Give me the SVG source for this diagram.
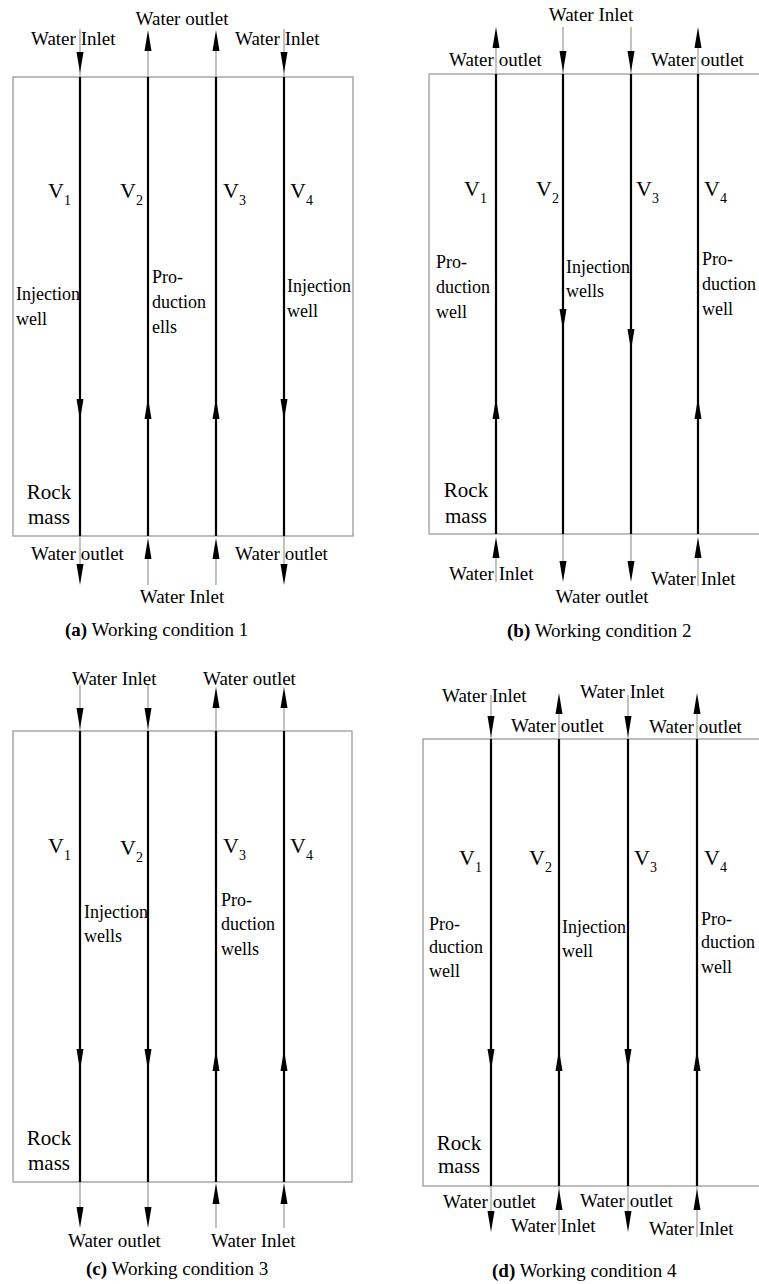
<svg xmlns="http://www.w3.org/2000/svg" width="759" height="1284" viewBox="0 0 759 1284">
<style>
.box{fill:none;stroke:#9a9a9a;stroke-width:1.3}
.well{stroke:#000;stroke-width:2.2}
.pipe{stroke:#9a9a9a;stroke-width:1.2}
</style>
<defs>
<path id="dn" d="M-3.5,-21 L3.5,-21 L0,0 Z" fill="#000"/>
<path id="up" d="M-3.5,21 L3.5,21 L0,0 Z" fill="#000"/>
</defs>
<rect width="759" height="1284" fill="#fff"/>

<!-- Panel (a) -->
<g id="panel-a">
<g id="a-rock"><rect class="box" x="13" y="77" width="340" height="459"/>
<text font-family="Liberation Serif" font-size="21" x="49" y="499" text-anchor="middle">Rock</text><text font-family="Liberation Serif" font-size="21" x="49" y="524" text-anchor="middle">mass</text></g>
<g id="a-w1"><line class="well" x1="80" y1="77" x2="80" y2="536"/><text font-family="Liberation Serif" font-size="22" x="48" y="198">V<tspan font-size="14" dy="7">1</tspan></text><text font-family="Liberation Serif" font-size="18" x="16" y="300">Injection</text><text font-family="Liberation Serif" font-size="18" x="16" y="325">well</text></g>
<g id="a-w2"><line class="well" x1="148" y1="77" x2="148" y2="536"/><text font-family="Liberation Serif" font-size="22" x="120" y="198">V<tspan font-size="14" dy="7">2</tspan></text><text font-family="Liberation Serif" font-size="18" x="152" y="283">Pro-</text><text font-family="Liberation Serif" font-size="18" x="152" y="308">duction</text><text font-family="Liberation Serif" font-size="18" x="152" y="333">ells</text></g>
<g id="a-w3"><line class="well" x1="216" y1="77" x2="216" y2="536"/><text font-family="Liberation Serif" font-size="22" x="223" y="198">V<tspan font-size="14" dy="7">3</tspan></text></g>
<g id="a-w4"><line class="well" x1="284" y1="77" x2="284" y2="536"/><text font-family="Liberation Serif" font-size="22" x="290" y="198">V<tspan font-size="14" dy="7">4</tspan></text><text font-family="Liberation Serif" font-size="18" x="287" y="292">Injection</text><text font-family="Liberation Serif" font-size="18" x="287" y="317">well</text></g>
<g id="a-labels">
<text font-family="Liberation Serif" font-size="19" x="31" y="45">Water Inlet</text><text font-family="Liberation Serif" font-size="19" x="235" y="45">Water Inlet</text>
<text font-family="Liberation Serif" font-size="19" x="182" y="25" text-anchor="middle">Water outlet</text>
<text font-family="Liberation Serif" font-size="19" x="31" y="560">Water outlet</text><text font-family="Liberation Serif" font-size="19" x="235" y="560">Water outlet</text>
<text font-family="Liberation Serif" font-size="19" x="182" y="603" text-anchor="middle">Water Inlet</text>
<text font-family="Liberation Serif" font-size="19" x="65" y="636"><tspan font-weight="bold">(a)</tspan> Working condition 1</text>
</g>
<g id="a-connectors">
<line class="pipe" x1="80" y1="29" x2="80" y2="77"/><use href="#dn" x="80" y="73"/>
<line class="pipe" x1="284" y1="29" x2="284" y2="77"/><use href="#dn" x="284" y="73"/>
<line class="pipe" x1="148" y1="40" x2="148" y2="77"/><use href="#up" x="148" y="30"/>
<line class="pipe" x1="216" y1="40" x2="216" y2="77"/><use href="#up" x="216" y="30"/>
<line class="pipe" x1="80" y1="536" x2="80" y2="580"/><use href="#dn" x="80" y="585"/>
<line class="pipe" x1="284" y1="536" x2="284" y2="580"/><use href="#dn" x="284" y="585"/>
<line class="pipe" x1="148" y1="545" x2="148" y2="585"/><use href="#up" x="148" y="538"/>
<line class="pipe" x1="216" y1="545" x2="216" y2="585"/><use href="#up" x="216" y="538"/>
<use href="#dn" x="80" y="420"/><use href="#up" x="148" y="398"/><use href="#up" x="216" y="398"/><use href="#dn" x="284" y="420"/>
</g>
</g>

<!-- Panel (b) -->
<g id="panel-b">
<g id="b-rock"><rect class="box" x="429" y="74" width="340" height="460"/>
<text font-family="Liberation Serif" font-size="21" x="466" y="497" text-anchor="middle">Rock</text><text font-family="Liberation Serif" font-size="21" x="466" y="523" text-anchor="middle">mass</text></g>
<g id="b-w1"><line class="well" x1="496" y1="74" x2="496" y2="534"/><text font-family="Liberation Serif" font-size="22" x="464" y="196">V<tspan font-size="14" dy="7">1</tspan></text><text font-family="Liberation Serif" font-size="18" x="436" y="268">Pro-</text><text font-family="Liberation Serif" font-size="18" x="436" y="293">duction</text><text font-family="Liberation Serif" font-size="18" x="436" y="318">well</text></g>
<g id="b-w2"><line class="well" x1="563" y1="74" x2="563" y2="534"/><text font-family="Liberation Serif" font-size="22" x="536" y="196">V<tspan font-size="14" dy="7">2</tspan></text><text font-family="Liberation Serif" font-size="18" x="566" y="273">Injection</text><text font-family="Liberation Serif" font-size="18" x="566" y="297">wells</text></g>
<g id="b-w3"><line class="well" x1="631" y1="74" x2="631" y2="534"/><text font-family="Liberation Serif" font-size="22" x="636" y="196">V<tspan font-size="14" dy="7">3</tspan></text></g>
<g id="b-w4"><line class="well" x1="698" y1="74" x2="698" y2="534"/><text font-family="Liberation Serif" font-size="22" x="704" y="196">V<tspan font-size="14" dy="7">4</tspan></text><text font-family="Liberation Serif" font-size="18" x="702" y="265">Pro-</text><text font-family="Liberation Serif" font-size="18" x="702" y="290">duction</text><text font-family="Liberation Serif" font-size="18" x="702" y="315">well</text></g>
<g id="b-labels">
<text font-family="Liberation Serif" font-size="19" x="449" y="66">Water outlet</text><text font-family="Liberation Serif" font-size="19" x="651" y="66">Water outlet</text>
<text font-family="Liberation Serif" font-size="19" x="591" y="21" text-anchor="middle">Water Inlet</text>
<text font-family="Liberation Serif" font-size="19" x="449" y="580">Water Inlet</text><text font-family="Liberation Serif" font-size="19" x="651" y="585">Water Inlet</text>
<text font-family="Liberation Serif" font-size="19" x="602" y="603" text-anchor="middle">Water outlet</text>
<text font-family="Liberation Serif" font-size="19" x="507" y="637"><tspan font-weight="bold">(b)</tspan> Working condition 2</text>
</g>
<g id="b-connectors">
<line class="pipe" x1="496" y1="40" x2="496" y2="74"/><use href="#up" x="496" y="27"/>
<line class="pipe" x1="698" y1="40" x2="698" y2="74"/><use href="#up" x="698" y="27"/>
<line class="pipe" x1="563" y1="27" x2="563" y2="74"/><use href="#dn" x="563" y="72"/>
<line class="pipe" x1="631" y1="27" x2="631" y2="74"/><use href="#dn" x="631" y="72"/>
<line class="pipe" x1="496" y1="545" x2="496" y2="582"/><use href="#up" x="496" y="537"/>
<line class="pipe" x1="698" y1="545" x2="698" y2="586"/><use href="#up" x="698" y="537"/>
<line class="pipe" x1="563" y1="534" x2="563" y2="575"/><use href="#dn" x="563" y="582"/>
<line class="pipe" x1="631" y1="534" x2="631" y2="575"/><use href="#dn" x="631" y="582"/>
<use href="#up" x="496" y="398"/><use href="#dn" x="563" y="330"/><use href="#dn" x="631" y="350"/><use href="#up" x="698" y="398"/>
</g>
</g>

<!-- Panel (c) -->
<g id="panel-c">
<g id="c-rock"><rect class="box" x="13" y="731" width="339" height="451"/>
<text font-family="Liberation Serif" font-size="21" x="49" y="1145" text-anchor="middle">Rock</text><text font-family="Liberation Serif" font-size="21" x="49" y="1170" text-anchor="middle">mass</text></g>
<g id="c-w1"><line class="well" x1="80" y1="731" x2="80" y2="1182"/><text font-family="Liberation Serif" font-size="22" x="48" y="853">V<tspan font-size="14" dy="7">1</tspan></text></g>
<g id="c-w2"><line class="well" x1="148" y1="731" x2="148" y2="1182"/><text font-family="Liberation Serif" font-size="22" x="120" y="855">V<tspan font-size="14" dy="7">2</tspan></text><text font-family="Liberation Serif" font-size="18" x="84" y="918">Injection</text><text font-family="Liberation Serif" font-size="18" x="84" y="942">wells</text></g>
<g id="c-w3"><line class="well" x1="216" y1="731" x2="216" y2="1182"/><text font-family="Liberation Serif" font-size="22" x="223" y="853">V<tspan font-size="14" dy="7">3</tspan></text><text font-family="Liberation Serif" font-size="18" x="221" y="906">Pro-</text><text font-family="Liberation Serif" font-size="18" x="221" y="930">duction</text><text font-family="Liberation Serif" font-size="18" x="221" y="955">wells</text></g>
<g id="c-w4"><line class="well" x1="284" y1="731" x2="284" y2="1182"/><text font-family="Liberation Serif" font-size="22" x="290" y="853">V<tspan font-size="14" dy="7">4</tspan></text></g>
<g id="c-labels">
<text font-family="Liberation Serif" font-size="19" x="72" y="685">Water Inlet</text><text font-family="Liberation Serif" font-size="19" x="203" y="685">Water outlet</text>
<text font-family="Liberation Serif" font-size="19" x="68" y="1247">Water outlet</text><text font-family="Liberation Serif" font-size="19" x="211" y="1247">Water Inlet</text>
<text font-family="Liberation Serif" font-size="19" x="86" y="1275"><tspan font-weight="bold">(c)</tspan> Working condition 3</text>
</g>
<g id="c-connectors">
<line class="pipe" x1="80" y1="685" x2="80" y2="731"/><use href="#dn" x="80" y="729"/>
<line class="pipe" x1="148" y1="685" x2="148" y2="731"/><use href="#dn" x="148" y="729"/>
<line class="pipe" x1="216" y1="700" x2="216" y2="731"/><use href="#up" x="216" y="687"/>
<line class="pipe" x1="284" y1="700" x2="284" y2="731"/><use href="#up" x="284" y="687"/>
<line class="pipe" x1="80" y1="1182" x2="80" y2="1222"/><use href="#dn" x="80" y="1228"/>
<line class="pipe" x1="148" y1="1182" x2="148" y2="1222"/><use href="#dn" x="148" y="1228"/>
<line class="pipe" x1="216" y1="1195" x2="216" y2="1228"/><use href="#up" x="216" y="1183"/>
<line class="pipe" x1="284" y1="1195" x2="284" y2="1228"/><use href="#up" x="284" y="1183"/>
<use href="#dn" x="80" y="1070"/><use href="#dn" x="148" y="1070"/><use href="#up" x="216" y="1050"/><use href="#up" x="284" y="1050"/>
</g>
</g>

<!-- Panel (d) -->
<g id="panel-d">
<g id="d-rock"><rect class="box" x="423" y="739" width="340" height="447"/>
<text font-family="Liberation Serif" font-size="21" x="459" y="1150" text-anchor="middle">Rock</text><text font-family="Liberation Serif" font-size="21" x="459" y="1173" text-anchor="middle">mass</text></g>
<g id="d-w1"><line class="well" x1="491" y1="739" x2="491" y2="1186"/><text font-family="Liberation Serif" font-size="22" x="459" y="865">V<tspan font-size="14" dy="7">1</tspan></text><text font-family="Liberation Serif" font-size="18" x="429" y="930">Pro-</text><text font-family="Liberation Serif" font-size="18" x="429" y="953">duction</text><text font-family="Liberation Serif" font-size="18" x="429" y="977">well</text></g>
<g id="d-w2"><line class="well" x1="559" y1="739" x2="559" y2="1186"/><text font-family="Liberation Serif" font-size="22" x="529" y="865">V<tspan font-size="14" dy="7">2</tspan></text><text font-family="Liberation Serif" font-size="18" x="562" y="933">Injection</text><text font-family="Liberation Serif" font-size="18" x="562" y="957">well</text></g>
<g id="d-w3"><line class="well" x1="628" y1="739" x2="628" y2="1186"/><text font-family="Liberation Serif" font-size="22" x="634" y="865">V<tspan font-size="14" dy="7">3</tspan></text></g>
<g id="d-w4"><line class="well" x1="697" y1="739" x2="697" y2="1186"/><text font-family="Liberation Serif" font-size="22" x="704" y="865">V<tspan font-size="14" dy="7">4</tspan></text><text font-family="Liberation Serif" font-size="18" x="701" y="925">Pro-</text><text font-family="Liberation Serif" font-size="18" x="701" y="948">duction</text><text font-family="Liberation Serif" font-size="18" x="701" y="973">well</text></g>
<g id="d-labels">
<text font-family="Liberation Serif" font-size="19" x="442" y="702">Water Inlet</text><text font-family="Liberation Serif" font-size="19" x="511" y="732">Water outlet</text>
<text font-family="Liberation Serif" font-size="19" x="580" y="698">Water Inlet</text><text font-family="Liberation Serif" font-size="19" x="649" y="733">Water outlet</text>
<text font-family="Liberation Serif" font-size="19" x="443" y="1208">Water outlet</text><text font-family="Liberation Serif" font-size="19" x="511" y="1232">Water Inlet</text>
<text font-family="Liberation Serif" font-size="19" x="580" y="1207">Water outlet</text><text font-family="Liberation Serif" font-size="19" x="649" y="1235">Water Inlet</text>
<text font-family="Liberation Serif" font-size="19" x="492" y="1277"><tspan font-weight="bold">(d)</tspan> Working condition 4</text>
</g>
<g id="d-connectors">
<line class="pipe" x1="491" y1="695" x2="491" y2="739"/><use href="#dn" x="491" y="737"/>
<line class="pipe" x1="628" y1="695" x2="628" y2="739"/><use href="#dn" x="628" y="737"/>
<line class="pipe" x1="559" y1="705" x2="559" y2="739"/><use href="#up" x="559" y="693"/>
<line class="pipe" x1="697" y1="705" x2="697" y2="739"/><use href="#up" x="697" y="693"/>
<line class="pipe" x1="491" y1="1186" x2="491" y2="1226"/><use href="#dn" x="491" y="1232"/>
<line class="pipe" x1="628" y1="1186" x2="628" y2="1226"/><use href="#dn" x="628" y="1232"/>
<line class="pipe" x1="559" y1="1186" x2="559" y2="1235"/><use href="#up" x="559" y="1189"/>
<line class="pipe" x1="697" y1="1186" x2="697" y2="1237"/><use href="#up" x="697" y="1189"/>
<use href="#dn" x="491" y="1070"/><use href="#up" x="559" y="1050"/><use href="#dn" x="628" y="1070"/><use href="#up" x="697" y="1050"/>
</g>
</g>
</svg>
